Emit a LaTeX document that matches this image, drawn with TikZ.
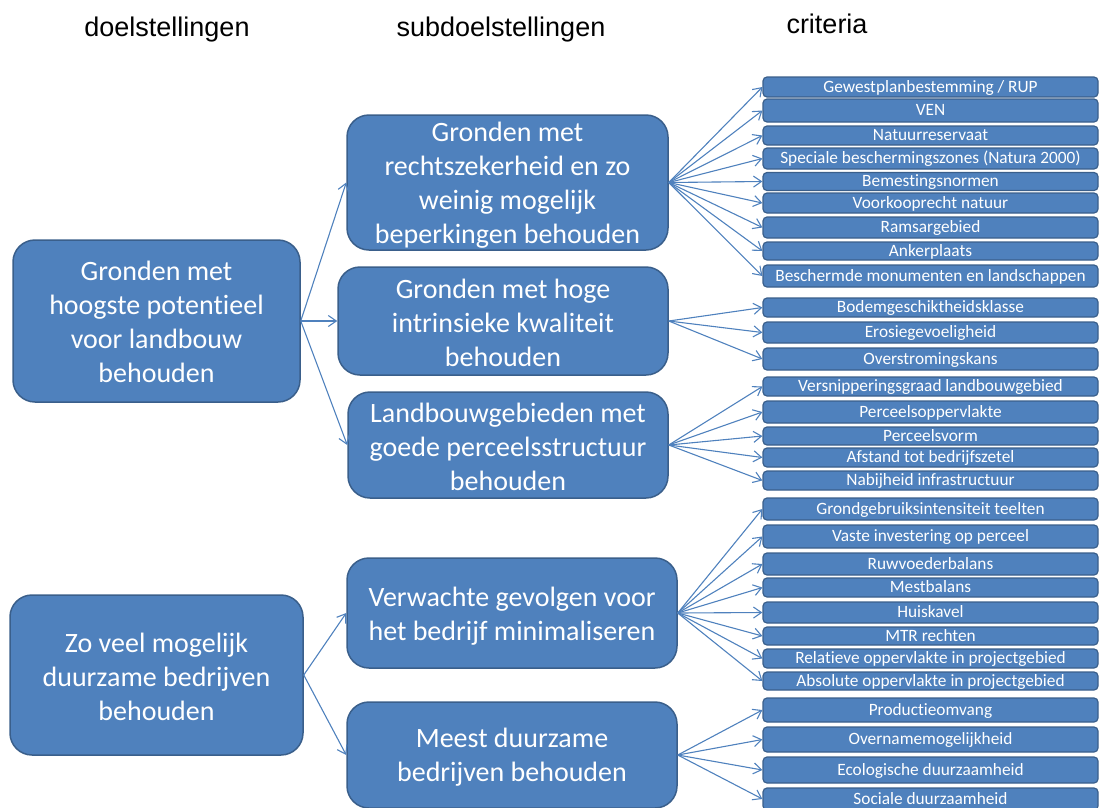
\documentclass[tikz,border=0pt]{standalone}
\usepackage{fontspec}
\setmainfont{Carlito}[Ligatures=NoCommon]
\newfontfamily\headfont{Liberation Sans}
\usetikzlibrary{arrows.meta}
\definecolor{boxfill}{HTML}{4F81BD}
\definecolor{boxline}{HTML}{3A5F8B}
\definecolor{conn}{HTML}{4F81BD}
\begin{document}
\begin{tikzpicture}[x=1pt,y=-1pt,
 big/.style={draw=boxline, fill=boxfill, line width=1.5pt, rounded corners=22pt, inner sep=0pt},
 bigtext/.style={text=white, align=center, font=\fontsize{28}{34}\selectfont, inner sep=0pt},
 crit/.style={draw=boxline, fill=boxfill, line width=1.2pt, rounded corners=4pt, text=white, font=\fontsize{17.3}{17.3}\selectfont, inner sep=0pt, minimum width=335pt, text height=12.5pt, text depth=2pt},
 head/.style={font=\headfont\fontsize{27}{27}\selectfont, anchor=base},
 link/.style={draw=conn, line width=1.1pt, -{Straight Barb[length=8pt,width=11pt]}}]
\useasboundingbox (0,0) rectangle (1100,807);

\node[head] (h1) at (167,36) {doelstellingen};
\node[head] (h2) at (501,36) {subdoelstellingen};
\node[head] (h3) at (827,33) {criteria};

\node[big, minimum width=287pt, minimum height=162pt] (L1) at (156.5,321) {};
\node[bigtext] (L1t) at ([yshift=-1pt]L1.center) {Gronden met\\hoogste potentieel\\voor landbouw\\behouden};
\node[big, minimum width=293pt, minimum height=160pt] (L2) at (156.5,675) {};
\node[bigtext] (L2t) at ([yshift=-2pt]L2.center) {Zo veel mogelijk\\duurzame bedrijven\\behouden};

\node[big, minimum width=321pt, minimum height=135pt] (S1) at (507.5,182.5) {};
\node[bigtext] (S1t) at ([yshift=-3pt]S1.center) {Gronden met\\rechtszekerheid en zo\\weinig mogelijk\\beperkingen behouden};
\node[big, minimum width=330pt, minimum height=108pt] (S2) at (503,321) {};
\node[bigtext] (S2t) at ([yshift=-2pt]S2.center) {Gronden met hoge\\intrinsieke kwaliteit\\behouden};
\node[big, minimum width=320pt, minimum height=106pt] (S3) at (508,445) {};
\node[bigtext] (S3t) at ([yshift=-1.5pt]S3.center) {Landbouwgebieden met\\goede perceelsstructuur\\behouden};
\node[big, minimum width=330pt, minimum height=110pt] (S4) at (512,613) {};
\node[bigtext] (S4t) at ([yshift=-3pt]S4.center) {Verwachte gevolgen voor\\het bedrijf minimaliseren};
\node[big, minimum width=330pt, minimum height=106pt] (S5) at (512,755) {};
\node[bigtext] (S5t) at ([yshift=-2pt]S5.center) {Meest duurzame\\bedrijven behouden};

\foreach \n/\y/\h/\t in {
 c1/87/20/{Gewestplanbestemming / RUP},
 c2/110.5/23/{VEN},
 c3/135.5/19/{Natuurreservaat},
 c4/158.5/21/{Speciale beschermingszones (Natura 2000)},
 c5/181.5/18/{Bemestingsnormen},
 c6/203/20/{Voorkooprecht natuur},
 c7/227.5/21/{Ramsargebied},
 c8/251/18/{Ankerplaats},
 c9/276/22/{Beschermde monumenten en landschappen},
 c10/307.5/19/{Bodemgeschiktheidsklasse},
 c11/332.5/21/{Erosiegevoeligheid},
 c12/359/22/{Overstromingskans},
 c13/386.5/19/{Versnipperingsgraad landbouwgebied},
 c14/412/22/{Perceelsoppervlakte},
 c15/436/18/{Perceelsvorm},
 c16/457.5/19/{Afstand tot bedrijfszetel},
 c17/480.5/19/{Nabijheid infrastructuur},
 c18/509/22/{Grondgebruiksintensiteit teelten},
 c19/536.5/23/{Vaste investering op perceel},
 c20/564/22/{Ruwvoederbalans},
 c21/587.5/19/{Mestbalans},
 c22/612.5/21/{Huiskavel},
 c23/636/18/{MTR rechten},
 c24/658.5/19/{Relatieve oppervlakte in projectgebied},
 c25/681/18/{Absolute oppervlakte in projectgebied},
 c26/710/24/{Productieomvang},
 c27/739.5/25/{Overnamemogelijkheid},
 c28/770/26/{Ecologische duurzaamheid},
 c29/799/22/{Sociale duurzaamheid}}
 {\node[crit, minimum height=\h pt] (\n) at (930.5,\y) {\t};}

\draw[link] (L1.east) -- (S1.west);
\draw[link] (L1.east) -- (S2.west);
\draw[link] (L1.east) -- (S3.west);
\draw[link] (L2.east) -- (S4.west);
\draw[link] (L2.east) -- (S5.west);

\foreach \i in {1,...,9} {\draw[link] (S1.east) -- (c\i.west);}
\foreach \i in {10,11,12} {\draw[link] (S2.east) -- (c\i.west);}
\foreach \i in {13,...,17} {\draw[link] (S3.east) -- (c\i.west);}
\foreach \i in {18,...,25} {\draw[link] (S4.east) -- (c\i.west);}
\foreach \i in {26,...,29} {\draw[link] (S5.east) -- (c\i.west);}
\end{tikzpicture}
\end{document}
